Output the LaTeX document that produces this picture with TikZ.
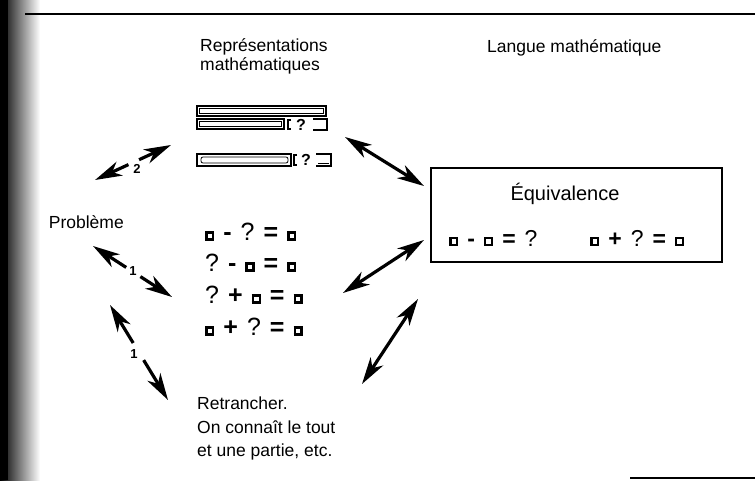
\documentclass[tikz,border=0pt]{standalone}
\usepackage{fontspec}
\setmainfont{Liberation Sans}
\usetikzlibrary{arrows.meta,calc}
\newcommand{\sqb}{\raisebox{2.5pt}{\setlength{\fboxrule}{2.3pt}\setlength{\fboxsep}{0pt}\fbox{\phantom{\rule{4.6pt}{4.6pt}}}}}
\newcommand{\gp}{\hspace{9pt}}
\tikzset{
  lbl/.style={inner sep=0pt, font=\fontsize{17.5}{19}\selectfont},
  eqn/.style={inner sep=0pt, anchor=west, font=\fontsize{25}{26}\selectfont},
  num/.style={inner sep=0pt, font=\fontsize{13}{14}\selectfont\bfseries},
  dblarrow/.style={line width=3.2pt, {Stealth[length=27pt,width=15pt,inset=8pt]}-{Stealth[length=27pt,width=15pt,inset=8pt]}},
  halfarrow/.style={line width=3.2pt, -{Stealth[length=27pt,width=15pt,inset=8pt]}},
  barout/.style={line width=1.4pt},
  barin/.style={line width=0.8pt},
  barq/.style={inner sep=0pt, font=\fontsize{16}{16}\selectfont\bfseries},
}
\begin{document}
\begin{tikzpicture}[x=1pt,y=-1pt]
\useasboundingbox (0,0) rectangle (755,480);
% scanned left edge
\shade[left color=black, right color=white] (0,0) rectangle (40,480);
\fill[black] (0,0) rectangle (8,480);
% frame lines
\draw[line width=1.6pt] (25,14) -- (755,14);
\draw[line width=1.2pt] (630,478) -- (755,478);

% headings
\node[lbl, anchor=base west] (rep1) at (200,51) {Représentations};
\node[lbl, anchor=base west] (rep2) at (200,70) {mathématiques};
\node[lbl, anchor=base west] (langue) at (487,52) {Langue mathématique};
\node[lbl, anchor=base east] (prob) at (124,228) {Problème};

% bar diagrams
\draw[barout] (197,106) rectangle (326,116);
\draw[barin] (199.5,108.5) rectangle (323.5,113.5);
\draw[barout] (197,119) rectangle (284,129);
\draw[barin] (199.5,121.5) rectangle (281.5,126.5);
\draw[barout] (291,120) -- (288,120) -- (288,129) -- (291,129);
\node[barq] (q1) at (301,125) {?};
\draw[barout] (313,119) -- (327,119) -- (327,130) -- (313,130);
\draw[barout] (197,154) rectangle (291,166);
\draw[barin, rounded corners=2pt] (201,157) rectangle (288,163);
\draw[barout] (297,155) -- (294,155) -- (294,165) -- (297,165);
\node[barq] (q2) at (306,160) {?};
\draw[barout] (316,154) -- (331,154) -- (331,166) -- (316,166);
\draw[barin] (318,163) -- (329,163);

% equations
\node[eqn] (e1) at (205,232) {\sqb\gp\textbf{-}\gp?\gp\textbf{=}\gp\sqb};
\node[eqn] (e2) at (205,263) {?\gp\textbf{-}\gp\sqb\gp\textbf{=}\gp\sqb};
\node[eqn] (e3) at (205,295) {?\gp\textbf{+}\gp\sqb\gp\textbf{=}\gp\sqb};
\node[eqn] (e4) at (205,327) {\sqb\gp\textbf{+}\gp?\gp\textbf{=}\gp\sqb};

% equivalence box
\node[draw, line width=1.6pt, minimum width=291pt, minimum height=94pt, inner sep=0pt] (box) at (576.5,215) {};
\node[inner sep=0pt, anchor=base, font=\fontsize{20}{21}\selectfont] (equiv) at (565,200) {Équivalence};
\node[eqn, font=\fontsize{23}{24}\selectfont] (b1) at (449,238) {\sqb\gp\textbf{-}\gp\sqb\gp\textbf{=}\gp?};
\node[eqn, font=\fontsize{23}{24}\selectfont] (b2) at (590,238) {\sqb\gp\textbf{+}\gp?\gp\textbf{=}\gp\sqb};

% retrancher
\node[lbl, anchor=base west] (r1) at (197,409) {Retrancher.};
\node[lbl, anchor=base west] (r2) at (197,433) {On connaît le tout};
\node[lbl, anchor=base west] (r3) at (197,456) {et une partie, etc.};

% arrow end points
\coordinate (a2p) at (95,180);
\coordinate (a2r) at (171,145);
\coordinate (a1p) at (93,246);
\coordinate (a1e) at (172,297);
\coordinate (b1p) at (110,305);
\coordinate (b1r) at (168,400);
\coordinate (ra1) at (345,137);
\coordinate (rb1) at (424,186);
\coordinate (ra2) at (343,293);
\coordinate (rb2) at (424,240);
\coordinate (ra3) at (362,384);
\coordinate (rb3) at (418,299);

% left arrows with labels
\draw[halfarrow] ($(a2p)!0.44!(a2r)$) -- (a2p);
\draw[halfarrow] ($(a2p)!0.58!(a2r)$) -- (a2r);
\node[num] (n2) at (137,169) {2};
\draw[halfarrow] ($(a1p)!0.42!(a1e)$) -- (a1p);
\draw[halfarrow] ($(a1p)!0.60!(a1e)$) -- (a1e);
\node[num] (n1a) at (133,271) {1};
\draw[halfarrow] ($(b1p)!0.40!(b1r)$) -- (b1p);
\draw[halfarrow] ($(b1p)!0.58!(b1r)$) -- (b1r);
\node[num] (n1b) at (134,354) {1};

% right arrows
\draw[dblarrow] (ra1) -- (rb1);
\draw[dblarrow] (ra2) -- (rb2);
\draw[dblarrow] (ra3) -- (rb3);
\end{tikzpicture}
\end{document}
